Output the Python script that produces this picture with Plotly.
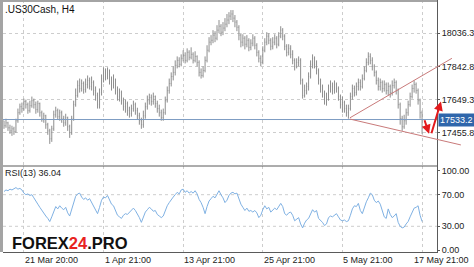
import plotly.graph_objects as go

# ---------------- data ----------------
closes = [
    17497, 17514, 17485, 17467, 17479, 17462, 17526, 17573, 17608, 17597,
    17638, 17620, 17585, 17614, 17643, 17620, 17591, 17626, 17573, 17538,
    17555, 17503, 17467, 17421, 17479, 17561, 17585, 17550, 17573, 17538,
    17514, 17544, 17491, 17456, 17538, 17620, 17673, 17731, 17714, 17743,
    17708, 17737, 17761, 17726, 17749, 17702, 17673, 17620, 17690, 17772,
    17808, 17784, 17819, 17761, 17731, 17767, 17702, 17667, 17690, 17643,
    17608, 17626, 17585, 17567, 17597, 17620, 17585, 17555, 17526, 17503,
    17555, 17608, 17643, 17661, 17638, 17667, 17626, 17597, 17573, 17544,
    17573, 17643, 17702, 17743, 17784, 17808, 17849, 17878, 17855, 17890,
    17907, 17878, 17925, 17896, 17913, 17878, 17901, 17866, 17808, 17790,
    17819, 17878, 17937, 17984, 17995, 18025, 18007, 18054, 18077, 18042,
    18066, 18089, 18113, 18136, 18148, 18124, 18101, 18071, 18025, 17984,
    18007, 17972, 17995, 17954, 17978, 18007, 17966, 17925, 17890, 17866,
    17937, 17984, 18019, 17995, 17960, 17984, 18007, 17972, 18019, 18054,
    18019, 17960, 17925, 17948, 17913, 17878, 17843, 17866, 17878, 17761,
    17673, 17702, 17726, 17784, 17855, 17890, 17855, 17819, 17761, 17726,
    17690, 17643, 17655, 17714, 17726, 17702, 17737, 17714, 17667, 17620,
    17632, 17597, 17573, 17597, 17667, 17714, 17690, 17726, 17749, 17726,
    17772, 17819, 17866, 17901, 17878, 17843, 17808, 17761, 17726, 17749,
    17714, 17737, 17702, 17726, 17690, 17731, 17749, 17702, 17620, 17538,
    17491, 17526, 17573, 17620, 17667, 17714, 17737, 17702, 17643, 17573,
    17533.2,
]
highs = [
    17526, 17538, 17520, 17503, 17497, 17491, 17538, 17597, 17626, 17632,
    17655, 17649, 17632, 17643, 17667, 17655, 17638, 17643, 17632, 17585,
    17573, 17561, 17514, 17479, 17497, 17585, 17608, 17597, 17591, 17585,
    17555, 17567, 17550, 17503, 17555, 17643, 17714, 17761, 17772, 17767,
    17755, 17772, 17790, 17778, 17784, 17761, 17726, 17690, 17714, 17796,
    17837, 17831, 17837, 17825, 17784, 17796, 17772, 17726, 17714, 17702,
    17661, 17649, 17638, 17608, 17620, 17643, 17632, 17602, 17573, 17544,
    17585, 17632, 17673, 17684, 17679, 17690, 17673, 17643, 17620, 17591,
    17597, 17667, 17726, 17772, 17808, 17843, 17878, 17901, 17896, 17913,
    17937, 17925, 17948, 17937, 17954, 17925, 17931, 17907, 17878, 17831,
    17843, 17901, 17966, 18013, 18025, 18054, 18048, 18083, 18113, 18089,
    18101, 18124, 18148, 18159, 18171, 18171, 18142, 18113, 18083, 18036,
    18030, 18019, 18025, 18007, 18001, 18030, 18019, 17978, 17937, 17907,
    17960, 18007, 18042, 18036, 18007, 18013, 18030, 18019, 18042, 18077,
    18066, 18030, 17972, 17972, 17966, 17937, 17890, 17890, 17901, 17890,
    17772, 17737, 17749, 17808, 17878, 17913, 17901, 17878, 17831, 17772,
    17737, 17702, 17690, 17737, 17761, 17749, 17761, 17749, 17726, 17679,
    17667, 17643, 17620, 17620, 17690, 17737, 17731, 17749, 17772, 17767,
    17796, 17843, 17890, 17925, 17919, 17896, 17855, 17819, 17778, 17772,
    17761, 17761, 17749, 17749, 17737, 17761, 17772, 17761, 17714, 17632,
    17555, 17561, 17597, 17643, 17690, 17737, 17761, 17749, 17714, 17655,
    17585,
]
lows = [
    17479, 17485, 17467, 17450, 17438, 17444, 17456, 17514, 17561, 17573,
    17585, 17597, 17567, 17573, 17602, 17597, 17567, 17573, 17550, 17520,
    17514, 17479, 17444, 17391, 17403, 17467, 17544, 17532, 17526, 17514,
    17491, 17497, 17467, 17426, 17444, 17526, 17608, 17661, 17690, 17696,
    17684, 17690, 17714, 17708, 17702, 17673, 17643, 17597, 17597, 17673,
    17749, 17761, 17767, 17737, 17702, 17714, 17679, 17643, 17638, 17620,
    17585, 17573, 17555, 17544, 17550, 17579, 17561, 17532, 17503, 17479,
    17485, 17538, 17591, 17620, 17614, 17620, 17602, 17573, 17550, 17526,
    17526, 17561, 17632, 17684, 17726, 17761, 17790, 17831, 17837, 17843,
    17872, 17860, 17866, 17878, 17884, 17860, 17866, 17843, 17784, 17772,
    17778, 17808, 17866, 17925, 17966, 17978, 17984, 17995, 18036, 18019,
    18025, 18048, 18071, 18089, 18113, 18101, 18071, 18048, 17995, 17954,
    17960, 17942, 17954, 17931, 17937, 17960, 17942, 17901, 17866, 17843,
    17855, 17925, 17966, 17972, 17937, 17942, 17966, 17948, 17960, 18007,
    17995, 17937, 17901, 17907, 17890, 17855, 17819, 17831, 17843, 17737,
    17655, 17661, 17679, 17702, 17772, 17831, 17831, 17796, 17737, 17690,
    17661, 17620, 17614, 17643, 17690, 17679, 17684, 17690, 17643, 17597,
    17573, 17573, 17550, 17538, 17585, 17649, 17667, 17673, 17702, 17702,
    17714, 17761, 17808, 17849, 17855, 17819, 17784, 17737, 17702, 17702,
    17690, 17696, 17679, 17673, 17661, 17673, 17714, 17679, 17597, 17503,
    17467, 17479, 17503, 17555, 17608, 17655, 17690, 17684, 17620, 17538,
    17450,
]
first_open = 17526
opens = [first_open] + closes[:-1]

rsi = [
    74, 76, 75, 77, 76, 78, 79, 77, 78, 76,
    72, 70, 71, 69, 70, 66, 61, 58, 54, 50,
    47, 43, 40, 36, 42, 50, 55, 52, 56, 53,
    51, 54, 47, 43, 52, 62, 68, 71, 72, 67,
    64, 66, 63, 65, 60, 55, 50, 46, 54, 63,
    67, 66, 69, 64, 58, 56, 50, 44, 42, 40,
    44, 46, 45, 48, 51, 53, 50, 46, 41, 35,
    42, 48, 51, 54, 52, 49, 50, 45, 43, 41,
    43, 50, 56, 60, 64, 67, 70, 73, 71, 76,
    77, 73, 75, 72, 74, 72, 75, 71, 64, 60,
    54, 46, 55, 62, 65, 68, 66, 70, 75, 70,
    66, 60, 63, 69, 72, 73, 71, 72, 64, 58,
    54, 50, 53, 49, 50, 48, 50, 47, 41, 44,
    51, 56, 52, 54, 48, 50, 53, 51, 56, 59,
    55, 46, 44, 47, 48, 44, 37, 39, 41, 33,
    28, 34, 38, 40, 46, 51, 48, 50, 40, 38,
    35, 31, 33, 41, 43, 42, 44, 46, 42, 38,
    37, 38, 36, 37, 44, 52, 56, 55, 59, 50,
    46, 54, 61, 66, 72, 70, 63, 60, 62, 58,
    50, 42, 40, 52, 45, 41, 43, 46, 35, 30,
    28, 29, 33, 36, 42, 48, 53, 54, 56, 44,
    36.04,
]
bars = list(range(len(closes)))

date_tick_bars = [10, 50, 90, 130, 170, 210]
date_tick_labels = ["21 Mar 20:00", "1 Apr 21:00", "13 Apr 21:00",
                    "25 Apr 21:00", "5 May 21:00", "17 May 21:00"]
price_ticks = [17455.8, 17649.3, 17842.8, 18036.3]
price_range = [17262.3, 18229.8]
rsi_ticks = [0, 30, 70, 100]
rsi_levels = [30, 70]
rsi_range = [-2.5, 106.3]
x_range = [-0.5, 217.5]
current_price = 17533.2
rsi_last = 36.04
symbol_title = ".US30Cash, H4"
# trend lines (bar, price) -> (bar, price)
trend_lines = [
    (173, 17538, 225, 17890),
    (173, 17538, 229.5, 17385),
]
# forecast arrows: tail (bar, price) -> head (bar, price)
forecast_arrows = [
    (211, 17538, 213.5, 17450),
    (214.5, 17444, 219.5, 17638),
]

# ---------------- style ----------------
FONT = "Liberation Sans, Arial, sans-serif"
BAR_COLOR = "#8e8e8e"
GRID = "#cdcdcd"
AXIS = "#5a5a5a"
RSI_TOP = 86 / 252

fig = go.Figure()
fig.add_trace(go.Ohlc(
    x=bars, open=opens, high=highs, low=lows, close=closes,
    increasing=dict(line=dict(color=BAR_COLOR, width=1)),
    decreasing=dict(line=dict(color=BAR_COLOR, width=1)),
    tickwidth=0.25, xaxis="x", yaxis="y", hoverinfo="skip", showlegend=False,
))
fig.add_trace(go.Scatter(
    x=bars, y=rsi, mode="lines", line=dict(color="#7fb1e3", width=1),
    xaxis="x", yaxis="y2", hoverinfo="skip", showlegend=False,
))

shapes = []
# current price line
shapes.append(dict(type="line", xref="paper", x0=0, x1=1, yref="y",
                   y0=current_price, y1=current_price,
                   line=dict(color="#7d9cc3", width=1)))
# RSI level lines
for lv in rsi_levels:
    shapes.append(dict(type="line", xref="paper", x0=0, x1=1, yref="y2",
                       y0=lv, y1=lv, layer="below",
                       line=dict(color=GRID, width=1, dash="3px,3px")))
# separator
shapes.append(dict(type="line", xref="paper", x0=0, x1=1, yref="paper",
                   y0=RSI_TOP, y1=RSI_TOP, line=dict(color=AXIS, width=1)))
# frame bands
shapes.append(dict(type="rect", xref="paper", x0=-3 / 436, x1=1, yref="paper",
                   y0=1 - 2 / 252, y1=1.001, fillcolor="#a4a4a4", line=dict(width=0)))
shapes.append(dict(type="rect", xref="paper", x0=-3 / 436, x1=0, yref="paper",
                   y0=0, y1=1.001, fillcolor="#a4a4a4", line=dict(width=0)))

annotations = []
for k, (xb, lab) in enumerate(zip(date_tick_bars, date_tick_labels)):
    last = k == len(date_tick_bars) - 1
    if last:
        annotations.append(dict(x=1 + 35 / 436, xref="paper", y=0, yref="paper",
                                text=lab, showarrow=False, xanchor="right",
                                yanchor="top", xshift=-1, yshift=-1,
                                font=dict(family=FONT, size=9, color="#222")))
    else:
        annotations.append(dict(x=xb, xref="x", y=0, yref="paper", text=lab,
                                showarrow=False, xanchor="left", yanchor="top",
                                xshift=-1, yshift=-1,
                                font=dict(family=FONT, size=9, color="#222")))
annotations.append(dict(x=0, xref="paper", y=1, yref="paper", text=symbol_title,
                        showarrow=False, xanchor="left", yanchor="top",
                        xshift=0, yshift=-2,
                        font=dict(family=FONT, size=10, color="#111")))
annotations.append(dict(x=0, xref="paper", y=RSI_TOP, yref="paper",
                        text=f"RSI(13) {rsi_last:.2f}",
                        showarrow=False, xanchor="left", yanchor="top",
                        xshift=0, yshift=0,
                        font=dict(family=FONT, size=9, color="#222")))
annotations.append(dict(x=1, xref="paper", y=current_price, yref="y",
                        text=f"{current_price:.1f}", showarrow=False,
                        xanchor="left", yanchor="middle", xshift=1,
                        bgcolor="#2f66ab", borderpad=1,
                        font=dict(family=FONT, size=9, color="white")))
for x0, y0, x1, y1 in trend_lines:
    annotations.append(dict(x=x1, y=y1, xref="x", yref="y", ax=x0, ay=y0,
                            axref="x", ayref="y", text="", showarrow=True,
                            arrowhead=0, arrowwidth=1, arrowcolor="#c97a7a"))
for x0, y0, x1, y1 in forecast_arrows:
    annotations.append(dict(x=x1, y=y1, xref="x", yref="y", ax=x0, ay=y0,
                            axref="x", ayref="y", text="", showarrow=True,
                            arrowhead=2, arrowsize=0.9, arrowwidth=2,
                            arrowcolor="#e3191c"))
annotations.append(dict(x=0, xref="paper", y=0, yref="paper",
                        text="FOREX<span style='color:#e8231f'>24</span>.PRO",
                        showarrow=False, xanchor="left", yanchor="middle",
                        xshift=7, yshift=9,
                        font=dict(family="Liberation Sans, Arial, sans-serif",
                                  size=16.5, color="#111", weight=900)))

fig.update_layout(
    width=474, height=267,
    margin=dict(l=3, r=35, t=0, b=15, pad=0),
    paper_bgcolor="white", plot_bgcolor="white",
    showlegend=False,
    xaxis=dict(domain=[0, 1], range=x_range, anchor="y2",
               tickvals=date_tick_bars, showticklabels=False, ticks="",
               showgrid=True, gridcolor=GRID, griddash="3px,3px", gridwidth=1,
               showline=True, linecolor=AXIS, linewidth=1, zeroline=False,
               rangeslider=dict(visible=False)),
    yaxis=dict(domain=[RSI_TOP, 1], range=price_range, side="right", anchor="x",
               tickvals=price_ticks, tickformat=".1f",
               showgrid=True, gridcolor=GRID, griddash="3px,3px", gridwidth=1,
               showline=True, linecolor=AXIS, linewidth=1, zeroline=False,
               ticks="outside", ticklen=2, tickcolor=AXIS,
               tickfont=dict(family=FONT, size=9, color="#222")),
    yaxis2=dict(domain=[0, RSI_TOP], range=rsi_range, side="right", anchor="x",
                tickvals=rsi_ticks, tickformat=".2f", showgrid=False,
                showline=True, linecolor=AXIS, linewidth=1, zeroline=False,
                ticks="outside", ticklen=2, tickcolor=AXIS,
                tickfont=dict(family=FONT, size=9, color="#222")),
    shapes=shapes, annotations=annotations,
)

fig.write_html("out.html")
